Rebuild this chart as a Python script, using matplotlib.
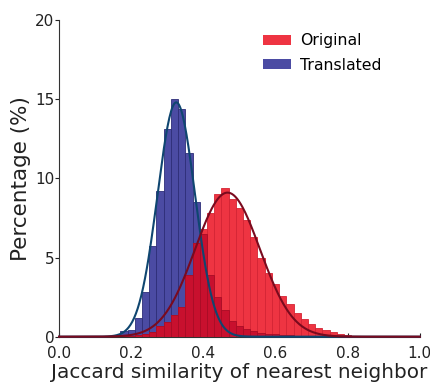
"""Histogram of Jaccard similarity of nearest neighbor, original vs translated."""
import numpy as np
import matplotlib
matplotlib.use('Agg')
import matplotlib.pyplot as plt
from matplotlib.patches import Patch

plt.rcParams['font.family'] = ['DejaVu Sans']

# Bin centres (bin width 0.02)
bin_centers = [0.14, 0.16, 0.18, 0.20, 0.22, 0.24, 0.26, 0.28, 0.30, 0.32,
               0.34, 0.36, 0.38, 0.40, 0.42, 0.44, 0.46, 0.48, 0.50, 0.52,
               0.54, 0.56, 0.58, 0.60, 0.62, 0.64, 0.66, 0.68, 0.70, 0.72,
               0.74, 0.76, 0.78, 0.80, 0.82]
# Percentages per bin
translated = [0.03, 0.12, 0.38, 0.45, 1.2, 2.85, 5.7, 9.2, 13.1, 15.0,
              14.4, 11.6, 8.5, 6.5, 3.9, 2.5, 1.7, 1.0, 0.7, 0.5,
              0.35, 0.25, 0.2, 0.15, 0.1, 0.08, 0.05, 0.03, 0.0, 0.0,
              0.0, 0.0, 0.0, 0.0, 0.0]
original = [0.0, 0.0, 0.03, 0.05, 0.1, 0.15, 0.3, 0.65, 0.95, 1.4,
            1.9, 3.9, 5.9, 6.8, 7.8, 9.0, 9.4, 8.7, 8.1, 7.4,
            6.3, 5.0, 4.05, 3.35, 2.6, 2.05, 1.52, 1.13, 0.78, 0.57,
            0.4, 0.27, 0.16, 0.08, 0.04]

# Gaussian fits (mean, sd, peak height)
translated_fit = (0.325, 0.052, 14.8)
original_fit = (0.467, 0.090, 9.1)

x_ticks = [0.0, 0.2, 0.4, 0.6, 0.8, 1.0]
y_ticks = [0, 5, 10, 15, 20]

blue = '#4b4ba3'
red = '#ee3442'
crimson = '#c8102e'

fig = plt.figure(figsize=(4.31, 3.85), dpi=100)
ax = fig.add_axes([0.137, 0.1255, 0.837, 0.8225])

width = 0.02
overlap = np.minimum(translated, original)
ax.bar(bin_centers, translated, width=width, color=blue,
       edgecolor='#2e2e78', linewidth=0.6, zorder=2)
ax.bar(bin_centers, original, width=width, color=red,
       edgecolor='#d42434', linewidth=0.6, zorder=3)
ax.bar(bin_centers, overlap, width=width, color=crimson,
       edgecolor='#a80c26', linewidth=0.6, zorder=4)

# Fitted curves
xs = np.linspace(0, 1, 400)
mu, sd, pk = translated_fit
ax.plot(xs, pk * np.exp(-0.5 * ((xs - mu) / sd) ** 2), color='#0f4670',
        lw=1.5, zorder=5, clip_on=False)
mu, sd, pk = original_fit
ax.plot(xs, pk * np.exp(-0.5 * ((xs - mu) / sd) ** 2), color='#7a0a1e',
        lw=1.5, zorder=6, clip_on=False)

ax.set_xlim(0, 1)
ax.set_ylim(0, 20)
ax.set_xticks(x_ticks)
ax.set_xticklabels(['%.1f' % t for t in x_ticks])
ax.set_yticks(y_ticks)
ax.spines['top'].set_visible(False)
ax.spines['right'].set_visible(False)
ax.spines['left'].set_color('#333333')
ax.spines['bottom'].set_color('#333333')
ax.tick_params(axis='x', direction='in', length=3, labelsize=11, pad=7,
               colors='#222222')
ax.tick_params(axis='y', direction='out', length=3, labelsize=11, pad=0.5,
               colors='#222222')

ax.set_xlabel('Jaccard similarity of nearest neighbor', fontsize=14.4,
              color='#222222', labelpad=1)
ax.set_ylabel('Percentage (%)', fontsize=15.5, color='#222222', labelpad=3)

handles = [Patch(facecolor=red, edgecolor='none', label='Original'),
           Patch(facecolor=blue, edgecolor='none', label='Translated')]
ax.legend(handles=handles, loc='upper left', bbox_to_anchor=(0.565, 0.958),
          frameon=False, fontsize=11.3, handlelength=1.8, handleheight=0.65,
          labelspacing=0.6, handletextpad=0.55, borderpad=0,
          borderaxespad=0)

fig.savefig('out.png', dpi=100)
